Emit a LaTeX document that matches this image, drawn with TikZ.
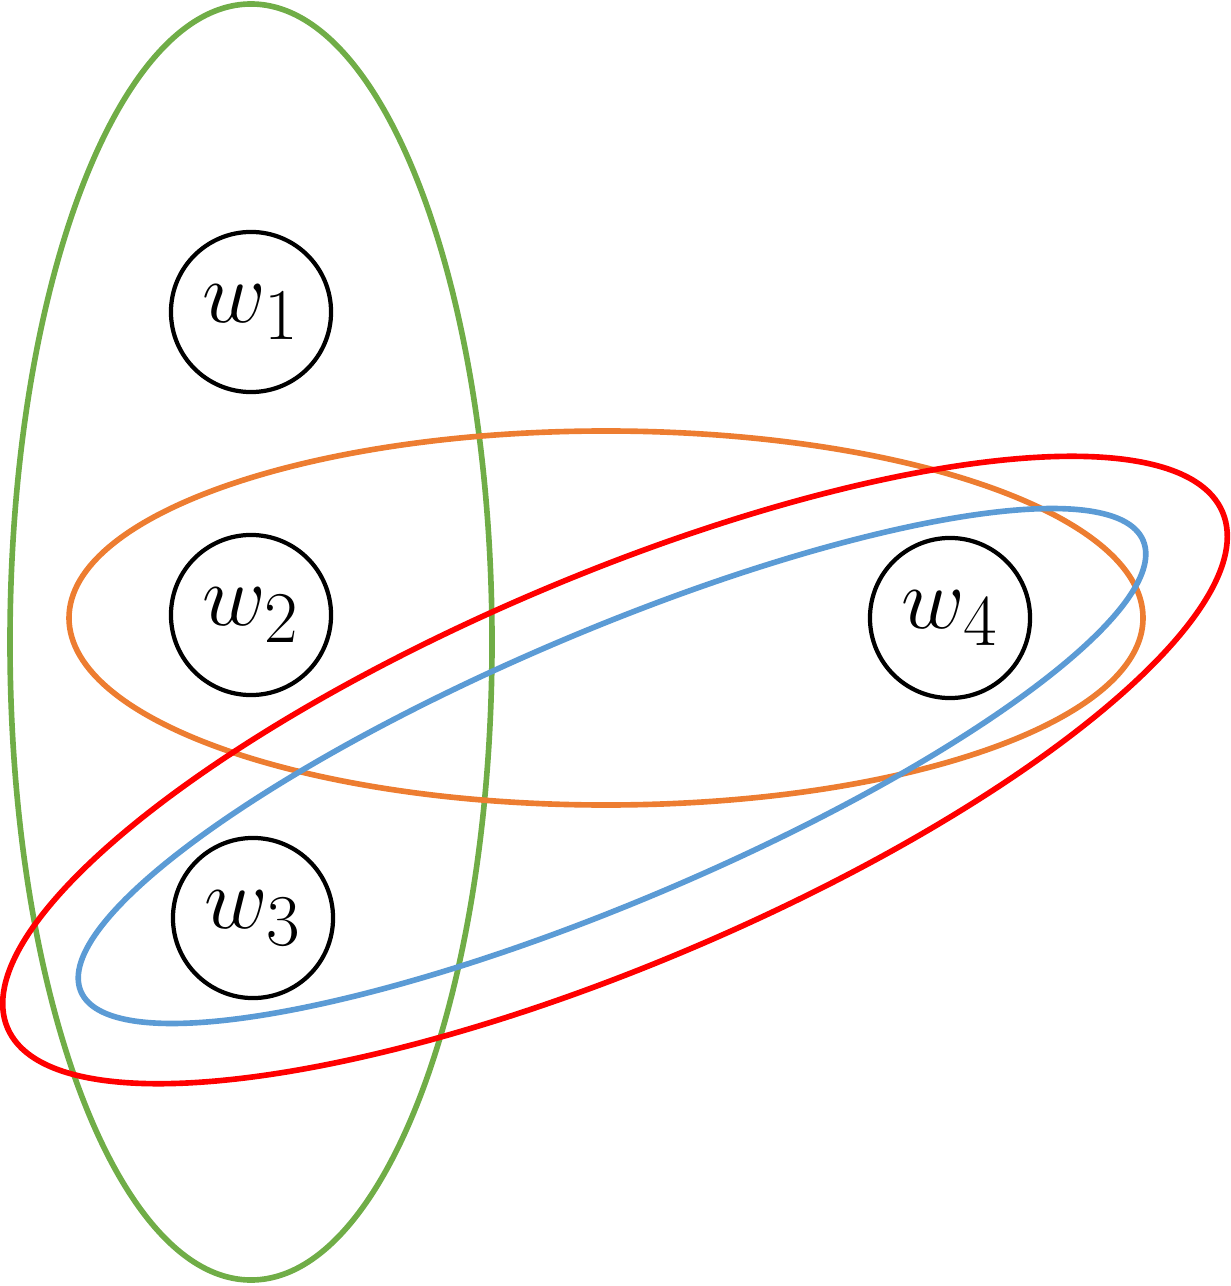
\documentclass[tikz,border=0pt]{standalone}
\begin{document}
\begin{tikzpicture}[x=0.01cm,y=-0.01cm,
  vtx/.style={circle,draw,line width=1.2pt,minimum size=1.6cm,inner sep=0pt,font=\fontsize{30}{36}\selectfont},
  hyp/.style={line width=1.6pt}]
\useasboundingbox (0,0) rectangle (1230,1286);
\definecolor{gr}{RGB}{112,173,71}
\definecolor{orr}{RGB}{237,125,49}
\definecolor{bl}{RGB}{91,155,213}
\definecolor{rd}{RGB}{255,0,0}
\node[vtx] (w1) at (251,312) {$w_1$};
\node[vtx] (w2) at (251,615) {$w_2$};
\node[vtx] (w3) at (253,918) {$w_3$};
\node[vtx] (w4) at (950,618) {$w_4$};
\draw[hyp,gr] (251,642) ellipse [x radius=241, y radius=638];
\draw[hyp,orr] (606,618) ellipse [x radius=537, y radius=187];
\draw[hyp,bl,rotate around={23:(612,766)}] (612,766) ellipse [x radius=577, y radius=-135];
\draw[hyp,rd,rotate around={23:(615,770)}] (615,770) ellipse [x radius=660, y radius=-194];
\end{tikzpicture}
\end{document}
